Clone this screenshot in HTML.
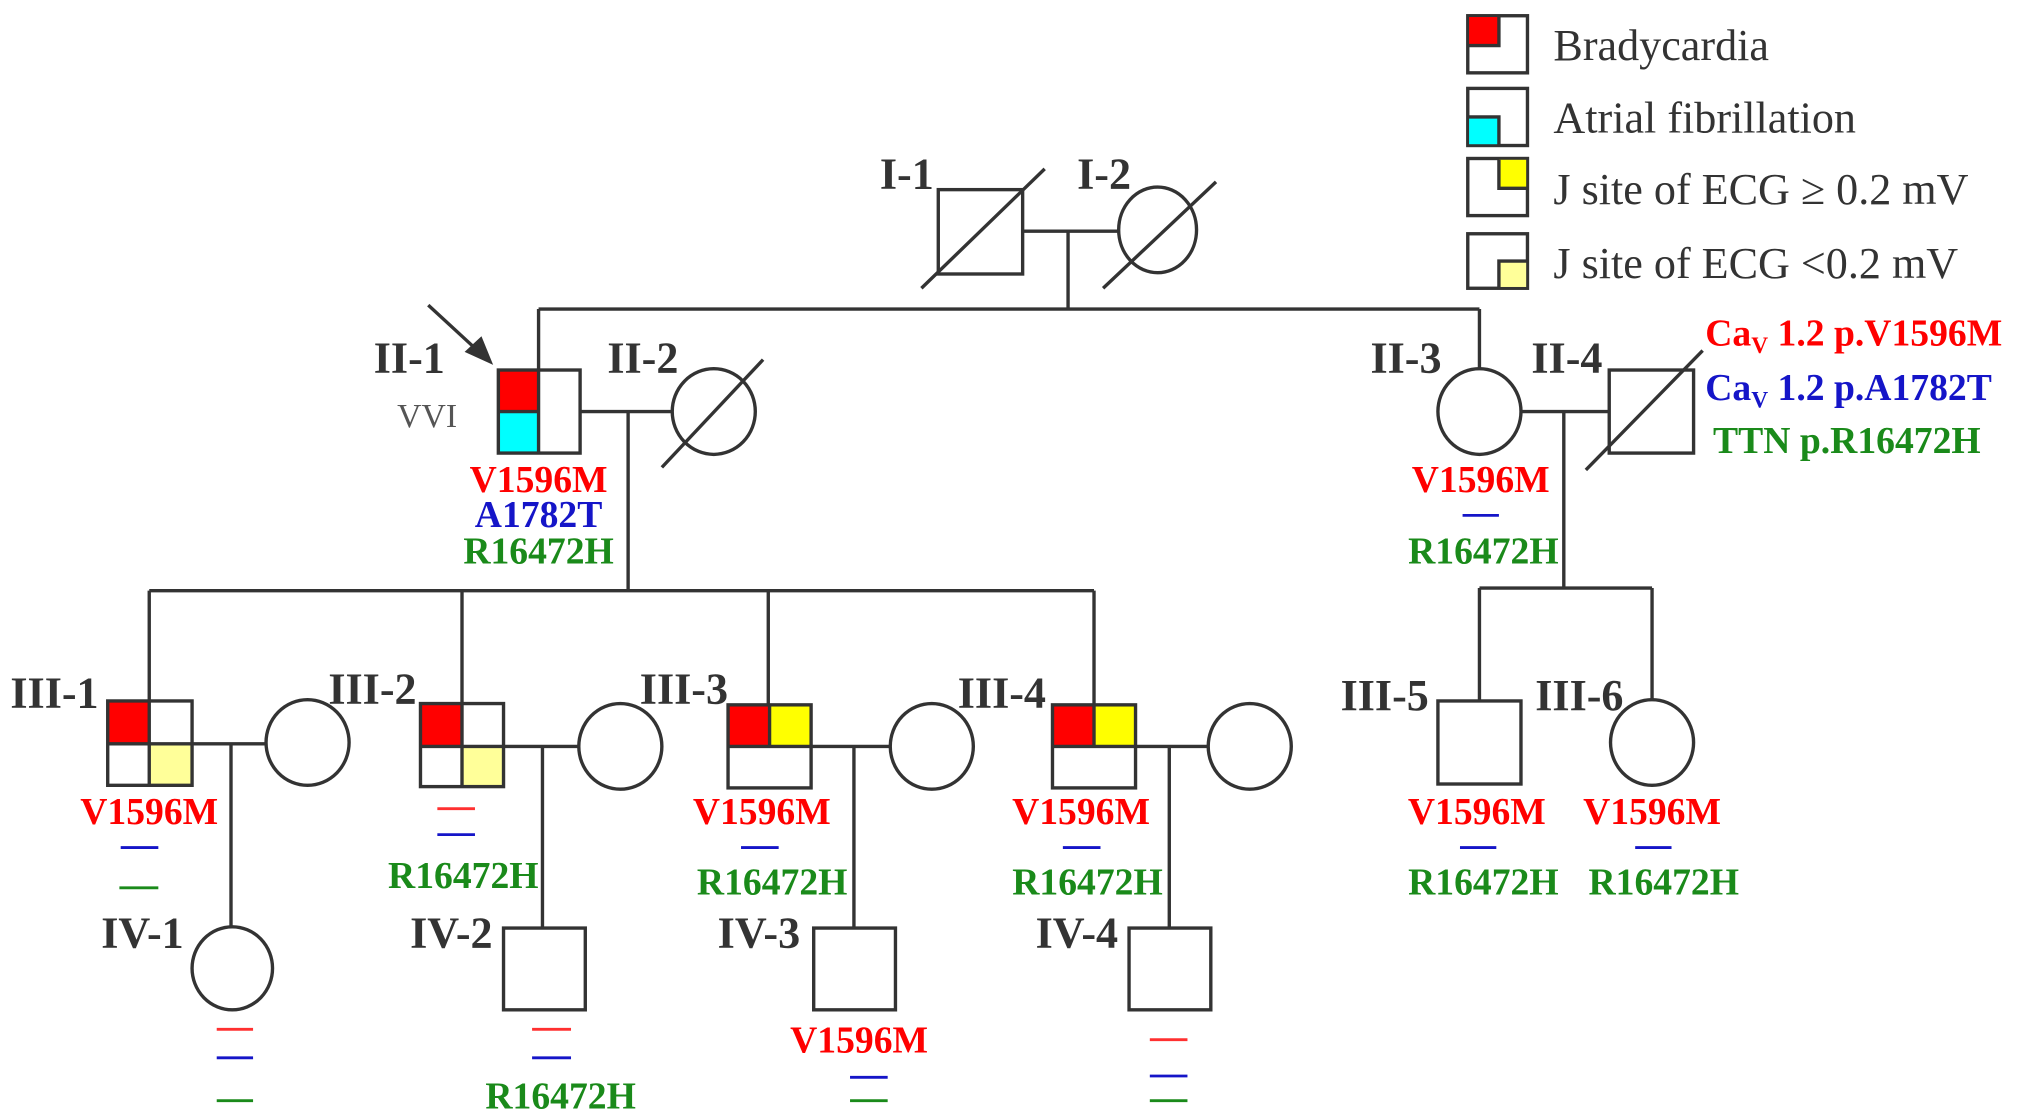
<!DOCTYPE html>
<html><head><meta charset="utf-8"><style>
html,body{margin:0;padding:0;background:#fff;}
svg{display:block;}
text{font-family:"Liberation Serif",serif;}
.g{font-weight:bold;font-size:34px;fill:#333;}
.m{font-weight:bold;font-size:29px;text-anchor:middle;}
.r{fill:#f00}.b{fill:#1515c8}.gr{fill:#1a8a1a}
.lg{font-size:34px;fill:#333;}
</style></head><body>
<svg width="2031" height="1119" viewBox="0 0 1565 862" xmlns="http://www.w3.org/2000/svg">
<g stroke="#333" stroke-width="2.6" fill="none">
<rect x="1131" y="12" width="46" height="44" fill="#fff"/><rect x="1132" y="13" width="23" height="22" fill="#f00" stroke="none"/><path d="M1131 35H1155V13"/>
<rect x="1131" y="68" width="46" height="44" fill="#fff"/><rect x="1132" y="90" width="23" height="21" fill="#0ff" stroke="none"/><path d="M1131 90H1155V112"/>
<rect x="1131" y="122" width="46" height="44" fill="#fff"/><rect x="1155" y="123" width="21" height="22" fill="#ff0" stroke="none"/><path d="M1155 123V145H1177"/>
<rect x="1131" y="180" width="46" height="42" fill="#fff"/><rect x="1155" y="201" width="21" height="20" fill="#ffff99" stroke="none"/><path d="M1155 222V201H1177"/>
<rect x="723" y="146" width="65" height="65"/><line x1="710" y1="222" x2="805" y2="130"/>
<ellipse cx="892" cy="177" rx="30" ry="33"/><line x1="850" y1="222" x2="937" y2="140"/>
<path d="M788 178H862M823 178V238M415 238H1140M415 238V285M1140 238V285"/>
<rect x="384" y="317" width="31" height="32" fill="#0ff" stroke="none"/><rect x="384" y="285" width="31" height="32" fill="#f00" stroke="none"/>
<rect x="384" y="285" width="63" height="64"/><path d="M415 285V349M384 317H415"/>
<path d="M447 317H517M484 317V455M115 455H843M115 455V540M356 455V542M592 455V543M843 455V543"/>
<ellipse cx="550" cy="317" rx="32" ry="33"/><line x1="510" y1="360" x2="588" y2="277"/>
<ellipse cx="1140" cy="317" rx="32" ry="33"/>
<rect x="1240" y="285" width="65" height="64"/><line x1="1222" y1="362" x2="1312" y2="270"/>
<path d="M1172 317H1240M1205 317V453M1140 453H1273M1140 453V540M1273 453V540"/>
<rect x="84" y="541" width="31" height="32" fill="#f00" stroke="none"/><rect x="115" y="573" width="33" height="32" fill="#ffff99" stroke="none"/>
<rect x="83" y="540" width="65" height="65"/><path d="M115 540V605M83 573H148"/>
<ellipse cx="237" cy="572" rx="32" ry="33"/><path d="M148 573H205M178 573V715"/>
<ellipse cx="179" cy="746" rx="31" ry="32"/>
<rect x="325" y="543" width="31" height="32" fill="#f00" stroke="none"/><rect x="356" y="575" width="32" height="31" fill="#ffff99" stroke="none"/>
<rect x="324" y="542" width="64" height="64"/><path d="M356 542V606M324 575H388"/>
<ellipse cx="478" cy="575" rx="32" ry="33"/><path d="M388 575H447M418 575V715"/>
<rect x="388" y="715" width="63" height="63"/>
<rect x="562" y="544" width="31" height="31" fill="#f00" stroke="none"/><rect x="593" y="544" width="32" height="31" fill="#ff0" stroke="none"/>
<rect x="561" y="543" width="64" height="64"/><path d="M593 543V575M561 575H625"/>
<ellipse cx="718" cy="575" rx="32" ry="33"/><path d="M625 575H686M658 575V715"/>
<rect x="627" y="715" width="63" height="63"/>
<rect x="812" y="544" width="31" height="31" fill="#f00" stroke="none"/><rect x="843" y="544" width="32" height="31" fill="#ff0" stroke="none"/>
<rect x="811" y="543" width="64" height="64"/><path d="M843 543V575M811 575H875"/>
<ellipse cx="963" cy="575" rx="32" ry="33"/><path d="M875 575H931M901 575V715"/>
<rect x="870" y="715" width="63" height="63"/>
<rect x="1108" y="540" width="64" height="64"/>
<ellipse cx="1273" cy="572" rx="32" ry="33"/>
<line x1="330" y1="235" x2="368" y2="270"/>
</g>
<polygon points="380,281 358,271 371,259" fill="#333"/>
<g stroke-width="2.2">
<path stroke="#1515c8" d="M1127 397H1155M93 653H122M571 653H600M819 653H848M1125 653H1153M1260 653H1288M337 643H366M655 830H684M886 829H915M167 815H195M410 815H440"/>
<path stroke="#ff3030" d="M337 623H366M167 793H195M410 793H440M886 801H915"/>
<path stroke="#1a8a1a" d="M92 684H122M167 848H195M655 848H684M886 848H915"/>
</g>
<g class="g">
<text x="678" y="145">I-1</text><text x="830" y="145">I-2</text>
<text x="288" y="287">II-1</text><text x="468" y="287">II-2</text>
<text x="1056" y="287">II-3</text><text x="1180" y="287">II-4</text>
<text x="8" y="545">III-1</text><text x="253" y="542">III-2</text><text x="493" y="542">III-3</text><text x="738" y="545">III-4</text>
<text x="1033" y="547">III-5</text><text x="1183" y="547">III-6</text>
<text x="78" y="730">IV-1</text><text x="316" y="730">IV-2</text><text x="553" y="730">IV-3</text><text x="798" y="730">IV-4</text>
</g>
<text x="306" y="329" style="font-size:26px;fill:#555">VVI</text>
<g class="m">
<text x="415" y="379" class="r">V1596M</text><text x="415" y="406" class="b">A1782T</text><text x="415" y="434" class="gr">R16472H</text>
<text x="1141" y="379" class="r">V1596M</text><text x="1143" y="434" class="gr">R16472H</text>
<text x="115" y="635" class="r">V1596M</text>
<text x="357" y="684" class="gr">R16472H</text>
<text x="587" y="635" class="r">V1596M</text><text x="595" y="689" class="gr">R16472H</text>
<text x="833" y="635" class="r">V1596M</text><text x="838" y="689" class="gr">R16472H</text>
<text x="1138" y="635" class="r">V1596M</text><text x="1143" y="689" class="gr">R16472H</text>
<text x="1273" y="635" class="r">V1596M</text><text x="1282" y="689" class="gr">R16472H</text>
<text x="432" y="854" class="gr">R16472H</text>
<text x="662" y="811" class="r">V1596M</text>
</g>
<g style="font-weight:bold;font-size:29px">
<text x="1314" y="266" class="r">Ca<tspan font-size="18" dy="6">V</tspan><tspan dy="-6"> 1.2 p.V1596M</tspan></text>
<text x="1314" y="308" class="b">Ca<tspan font-size="18" dy="6">V</tspan><tspan dy="-6"> 1.2 p.A1782T</tspan></text>
<text x="1320" y="349" class="gr">TTN p.R16472H</text>
</g>
<g class="lg">
<text x="1197" y="46">Bradycardia</text>
<text x="1197" y="102">Atrial fibrillation</text>
<text x="1197" y="157">J site of ECG  ≥ 0.2 mV</text>
<text x="1197" y="214">J site of ECG  &lt;0.2 mV</text>
</g>
</svg>
</body></html>
